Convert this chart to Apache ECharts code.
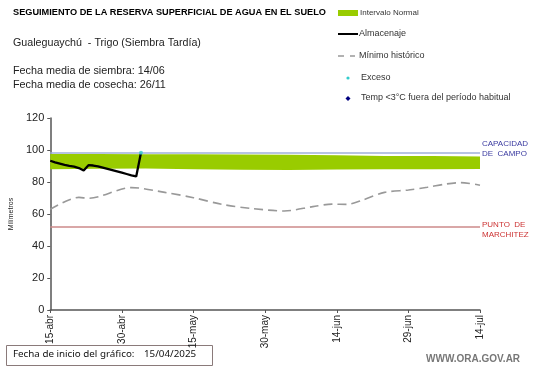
<!DOCTYPE html>
<html>
<head>
<meta charset="utf-8">
<script src="https://cdn.jsdelivr.net/npm/echarts@6/dist/echarts.min.js"></script>
<style>
html,body{margin:0;padding:0;background:#fff;}
#c{width:541px;height:368px;}
</style>
</head>
<body>
<div id="c"></div>
<script>
// ---- data ----
var tickLabels = ['15-abr','30-abr','15-may','30-may','14-jun','29-jun','14-jul'];
var storageDays = [0,1,2,3,4,5,6,7,8,9,10,11,12,13,14,15,16,17,18,19];
var storageValues = [93.3,92.3,91.5,90.7,90.1,89.6,88.7,87.2,90.5,90.3,89.8,89.0,88.2,87.4,86.6,85.8,85.0,84.2,83.5,98.3];
var minDays = [0,6,8,17,24,30,36,42,49,55,59,62,65,70,75,79,83,86,90];
var minValues = [62.9,70.4,69.8,76.5,73.5,70.2,66.0,63.5,61.9,64.6,66.2,66.0,68.3,73.5,75.0,76.7,78.8,79.6,78.0];
var bandDays = [0,10,20,30,40,50,60,70,80,90];
var bandLow = [88.0,88.3,88.5,88.0,87.6,87.5,87.8,88.0,88.0,88.2];
var bandHigh = [97.5,97.5,97.4,97.3,97.2,97.0,96.7,96.3,96.2,96.0];
var excesoDays = [19];
var excesoValues = [98.3];
var capacidadCampo = 98.3;
var puntoMarchitez = 52;

function pairs(xs, ys){ return xs.map(function(x,i){ return [x, ys[i]]; }); }
var bandData = bandDays.map(function(d,i){ return [d, bandLow[i], bandHigh[i]]; });

var chart = echarts.init(document.getElementById('c'), null, {renderer:'canvas'});
var FONT = 'Liberation Sans, Arial, sans-serif';
chart.setOption({
  animation:false,
  backgroundColor:'#fff',
  textStyle:{fontFamily:FONT},
  grid:{left:33, right:61, top:118, bottom:58},
  xAxis:{
    type:'value', min:0, max:90, interval:15,
    axisLine:{show:true, onZero:false, lineStyle:{color:'#555', width:1.5}},
    axisTick:{show:true, length:3, lineStyle:{color:'#555'}},
    splitLine:{show:false},
    axisLabel:{rotate:90, fontSize:10, color:'#222', margin:5, fontFamily:FONT,
      formatter:function(v){ return tickLabels[Math.round(v/15)] || ''; }}
  },
  yAxis:{
    type:'value', min:0, max:120, interval:20,
    name:'Milímetros', nameLocation:'middle', nameGap:24, nameRotate:90,
    nameTextStyle:{fontSize:7, color:'#222', fontFamily:FONT},
    axisLine:{show:true, lineStyle:{color:'#555', width:1.5}},
    axisTick:{show:true, length:3, lineStyle:{color:'#555'}},
    splitLine:{show:false},
    axisLabel:{fontSize:11, color:'#222', margin:6, fontFamily:FONT}
  },
  series:[
    {name:'Intervalo Normal', type:'custom', data:bandData, silent:true, z:1,
      encode:{x:0, y:[1,2]},
      renderItem:function(params, api){
        if (params.dataIndex !== 0) return null;
        var top = [], bot = [];
        for (var i = 0; i < bandData.length; i++) {
          top.push(api.coord([bandData[i][0], bandData[i][2]]));
          bot.unshift(api.coord([bandData[i][0], bandData[i][1]]));
        }
        return {type:'polygon', shape:{points:top.concat(bot)}, style:{fill:'#99cc00'}};
      }},
    {name:'lines', type:'line', data:[], z:2,
      markLine:{silent:true, symbol:'none', animation:false,
        data:[
          {yAxis:capacidadCampo, lineStyle:{color:'#9fb0d8', width:1.5, type:'solid'},
            label:{show:true, position:'end', distance:2, offset:[0,-4], formatter:'CAPACIDAD\nDE  CAMPO',
              color:'#3a3aa0', fontSize:8, lineHeight:10, fontFamily:FONT}},
          {yAxis:puntoMarchitez, lineStyle:{color:'#cc8a8a', width:1.5, type:'solid'},
            label:{show:true, position:'end', distance:2, offset:[0,3], formatter:'PUNTO  DE\nMARCHITEZ',
              color:'#cc3333', fontSize:8, lineHeight:10, fontFamily:FONT}}
        ]}},
    {name:'Mínimo histórico', type:'line', data:pairs(minDays, minValues), symbol:'none', smooth:0.3,
      lineStyle:{color:'#999', width:1.6, type:[9,5]}, z:3},
    {name:'Almacenaje', type:'line', data:pairs(storageDays, storageValues), symbol:'none',
      lineStyle:{color:'#000', width:2.3}, z:4},
    {name:'Exceso', type:'scatter', data:pairs(excesoDays, excesoValues), symbol:'circle', symbolSize:4,
      itemStyle:{color:'#33cccc'}, z:5},
    {name:'Temp <3°C fuera del período habitual', type:'scatter', data:[], symbol:'diamond', symbolSize:5,
      itemStyle:{color:'#000080'}, z:5}
  ],
  graphic:[
    {type:'text', left:13, top:8, style:{text:'SEGUIMIENTO DE LA RESERVA SUPERFICIAL DE AGUA EN EL SUELO', font:'bold 9.2px '+FONT, fill:'#000'}},
    {type:'text', left:13, top:38, style:{text:'Gualeguaychú  - Trigo (Siembra Tardía)', font:'10.7px '+FONT, fill:'#222'}},
    {type:'text', left:13, top:66, style:{text:'Fecha media de siembra: 14/06', font:'10.8px '+FONT, fill:'#222'}},
    {type:'text', left:13, top:80, style:{text:'Fecha media de cosecha: 26/11', font:'10.8px '+FONT, fill:'#222'}},
    // legend
    {type:'rect', shape:{x:338, y:10, width:20, height:6}, style:{fill:'#99cc00'}},
    {type:'text', left:360, top:9, style:{text:'Intervalo Normal', font:'8px '+FONT, fill:'#333'}},
    {type:'line', shape:{x1:338, y1:34, x2:358, y2:34}, style:{stroke:'#000', lineWidth:2}},
    {type:'text', left:359, top:29, style:{text:'Almacenaje', font:'9px '+FONT, fill:'#333'}},
    {type:'line', shape:{x1:338, y1:56, x2:344, y2:56}, style:{stroke:'#999', lineWidth:1.5}},
    {type:'line', shape:{x1:350, y1:56, x2:355, y2:56}, style:{stroke:'#999', lineWidth:1.5}},
    {type:'text', left:359, top:51, style:{text:'Mínimo histórico', font:'9px '+FONT, fill:'#333'}},
    {type:'circle', shape:{cx:348, cy:78, r:1.6}, style:{fill:'#33cccc'}},
    {type:'text', left:361, top:73, style:{text:'Exceso', font:'9px '+FONT, fill:'#333'}},
    {type:'polygon', shape:{points:[[348,96],[350.5,98.5],[348,101],[345.5,98.5]]}, style:{fill:'#000080'}},
    {type:'text', left:361, top:93, style:{text:'Temp <3°C fuera del período habitual', font:'9px '+FONT, fill:'#333'}},
    // bottom box
    {type:'rect', shape:{x:6.5, y:345.5, width:206, height:20}, style:{fill:'#fff', stroke:'#8a7a7a', lineWidth:1}},
    {type:'text', left:13, top:349, style:{text:'Fecha de inicio del gráfico:', font:'9.8px Noto Sans, sans-serif', fill:'#111'}},
    {type:'text', left:144, top:349, style:{text:'15/04/2025', font:'9.8px Noto Sans, sans-serif', fill:'#111'}},
    {type:'text', left:426, top:354, style:{text:'WWW.ORA.GOV.AR', font:'bold 10px '+FONT, fill:'#777'}}
  ]
});
</script>
</body>
</html>
